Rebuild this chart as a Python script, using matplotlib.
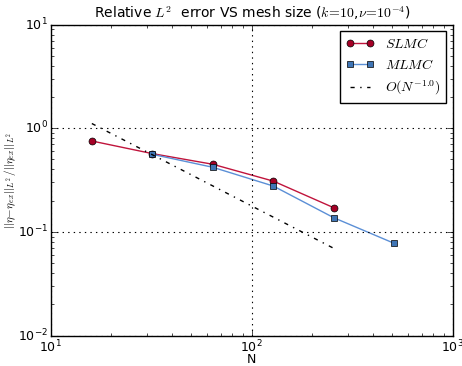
import numpy as np
import matplotlib
matplotlib.use("Agg")
import matplotlib.pyplot as plt

plt.style.use("classic")

# values
n_slmc = [16, 32, 64, 128, 256]
err_slmc = [0.753, 0.569, 0.449, 0.309, 0.171]
n_mlmc = [32, 64, 128, 256, 512]
err_mlmc = [0.560, 0.420, 0.277, 0.137, 0.0775]
n_ref = [16, 256]
err_ref = [1.11, 0.0694]

fig = plt.figure(figsize=(4.62, 3.66), dpi=100, facecolor="white")
ax = fig.add_axes([0.110, 0.083, 0.870, 0.850])

ax.loglog(n_slmc, err_slmc, "-o", color="#c0143c", mfc="#a50026", mec="black",
          ms=5, lw=1, label=r"$SLMC$")
ax.loglog(n_mlmc, err_mlmc, "-s", color="#5b8fd6", mfc="#3f75b5", mec="black",
          ms=5, lw=1, label=r"$MLMC$")
ax.loglog(n_ref, err_ref, color="black", lw=1, dashes=(3, 4, 1, 4),
          label=r"$O(N^{-1.0})$")

ax.set_xlim(10, 1000)
ax.set_ylim(0.01, 10)
ax.grid(True, which="major", linestyle=":", color="black", lw=0.8)
ax.tick_params(labelsize=9, pad=2)
ax.set_xlabel("N", fontsize=9, labelpad=-1.5)
ax.set_ylabel(r"$||\eta\!-\!\eta_{ex}||_{L^2}\,/||\eta_{ex}||_{L^2}$", fontsize=8,
              labelpad=0)
ax.set_title(r"Relative $L^2$  error VS mesh size ($k\!=\!10$,$\nu\!=\!10^{-4}$)",
             fontsize=10)
ax.legend(loc="upper right", fontsize=10, numpoints=2, handlelength=2,
          borderaxespad=0.5)

fig.savefig("out.png", dpi=100, facecolor="white")
